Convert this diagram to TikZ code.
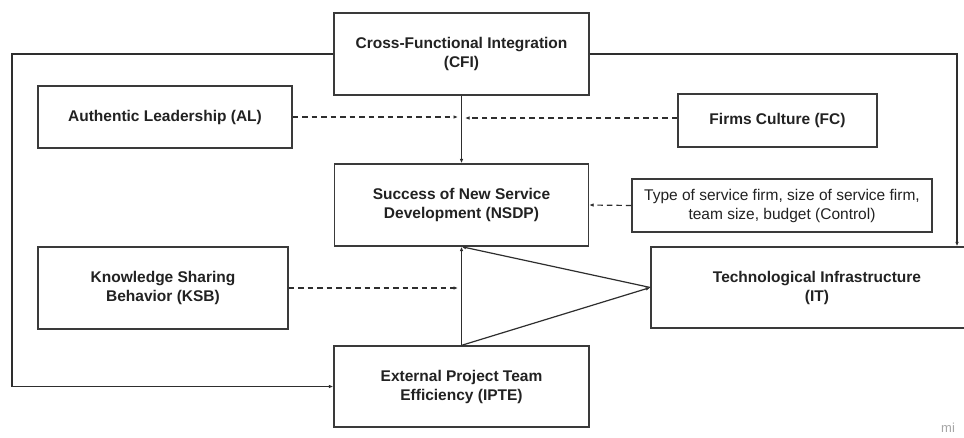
\documentclass[tikz,border=0pt]{standalone}
\usepackage{fontspec}
\setmainfont{Liberation Sans}
\usetikzlibrary{arrows.meta}
\definecolor{linec}{HTML}{2E2E2E}
\definecolor{boxc}{HTML}{3A3A3A}
\definecolor{textc}{HTML}{222222}
\begin{document}
\begin{tikzpicture}[x=1pt,y=-1pt,
  box/.style={draw=boxc,line width=1.3pt,rectangle,inner sep=0pt,align=center,
    text=textc,font=\fontsize{15.5}{19}\selectfont\bfseries},
  ctrlbox/.style={box,font=\fontsize{15.5}{19}\selectfont},
  arr/.style={draw=linec,line width=1.2pt,-{Latex[length=4.5pt,width=3.6pt]}},
  darr/.style={arr,dash pattern=on 5.5pt off 4pt},
  wm/.style={text=black!35,font=\fontsize{13}{15}\selectfont,inner sep=0pt}]
\fill[white] (0,0) rectangle (964,437);
\useasboundingbox (0,0) rectangle (964,437);
% boxes
\node[box,minimum width=255pt,minimum height=82pt] (CFI) at (461.5,54) {Cross-Functional Integration\\(CFI)};
\node[box,minimum width=254pt,minimum height=62pt] (AL) at (165,117) {Authentic Leadership (AL)};
\node[box,minimum width=199pt,minimum height=53pt] (FC) at (777.5,120.5) {Firms Culture (FC)};
\node[box,minimum width=254pt,minimum height=82pt] (NSDP) at (461.5,205) {Success of New Service\\Development (NSDP)};
\node[ctrlbox,minimum width=300pt,minimum height=53pt] (CTRL) at (782,205.5) {Type of service firm, size of service firm,\\team size, budget (Control)};
\node[box,minimum width=332pt,minimum height=81pt] (IT) at (817,287.5) {Technological Infrastructure\\(IT)};
\node[box,minimum width=250pt,minimum height=82pt] (KSB) at (163,288) {Knowledge Sharing\\Behavior (KSB)};
\node[box,minimum width=255pt,minimum height=81pt] (IPTE) at (461.5,386.5) {External Project Team\\Efficiency (IPTE)};
% helper coordinates
\coordinate (L1) at (12,54);
\coordinate (R1) at (957,54);
\coordinate (J1) at (458,117);
\coordinate (J2) at (465,118);
\coordinate (J3) at (458,288);
% connectors
\draw[arr] (CFI.south) -- (NSDP.north);
\draw[arr] (CFI.west) -- (L1) |- (IPTE.west);
\draw[arr] (CFI.east) -- (R1) -- (R1 |- IT.north);
\draw[darr] (AL.east) -- (J1);
\draw[darr] ([yshift=2.5pt]FC.west) -- (J2);
\draw[darr] (CTRL.west) -- (NSDP.east);
\draw[darr] (KSB.east) -- (J3);
\draw[arr] (IPTE.north) -- (NSDP.south);
\draw[arr] (IPTE.north) -- (IT.west);
\draw[arr] (IT.west) -- (NSDP.south);
% watermark
\node[wm,anchor=base west] (WM) at (941,432) {mi};
\end{tikzpicture}
\end{document}
